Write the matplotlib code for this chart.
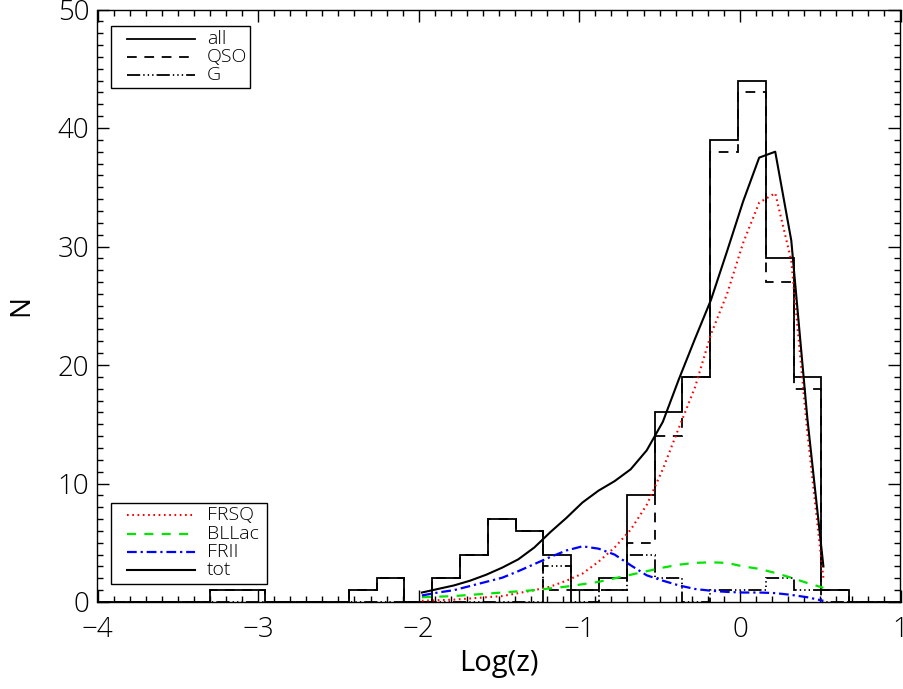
import numpy as np
import matplotlib.pyplot as plt
from matplotlib.patches import Rectangle
from matplotlib.ticker import MultipleLocator

plt.rcParams['font.family'] = ['Open Sans', 'DejaVu Sans']
plt.rcParams['font.weight'] = 'light'
plt.rcParams['lines.scale_dashes'] = False

# histogram bins in Log(z)
edges = [-3.300, -3.127, -2.954, -2.781, -2.608, -2.435, -2.262, -2.089,
         -1.916, -1.743, -1.570, -1.397, -1.224, -1.050, -0.877, -0.704,
         -0.531, -0.358, -0.185, -0.012, 0.161, 0.334, 0.507, 0.680]
n_all = [1, 1, 0, 0, 0, 1, 2, 0, 2, 4, 7, 6, 4, 1, 2, 9, 16, 19, 39, 44, 29, 19, 1]
n_qso = [1, 1, 0, 0, 0, 1, 2, 0, 2, 4, 7, 6, 1, 1, 1, 5, 14, 19, 38, 43, 27, 18, 1]
n_gal = [0, 0, 0, 0, 0, 0, 0, 0, 0, 0, 0, 0, 3, 0, 1, 4, 2, 0, 1, 1, 2, 1, 0]

# model curves
logz = [-1.98, -1.88, -1.78, -1.68, -1.58, -1.48, -1.38, -1.28, -1.18, -1.08,
        -0.98, -0.88, -0.78, -0.68, -0.58, -0.48, -0.38, -0.28, -0.18, -0.08,
        0.02, 0.12, 0.22, 0.32, 0.42, 0.52]
frsq = [0.1, 0.15, 0.2, 0.3, 0.4, 0.5, 0.75, 1.0, 1.3, 1.8,
        2.4, 3.4, 4.6, 6.1, 8.2, 11.2, 14.7, 18.1, 22.6, 26.0,
        30.3, 33.7, 34.5, 28.8, 14.3, 2.0]
bllac = [0.4, 0.45, 0.5, 0.6, 0.7, 0.8, 0.9, 1.0, 1.15, 1.3,
         1.5, 1.7, 2.0, 2.3, 2.6, 2.9, 3.15, 3.3, 3.35, 3.3,
         3.0, 2.8, 2.45, 2.05, 1.6, 1.2]
frii = [0.55, 0.8, 1.0, 1.35, 1.7, 2.05, 2.6, 3.2, 3.8, 4.35,
        4.7, 4.5, 4.0, 3.1, 2.25, 1.8, 1.4, 1.1, 0.95, 0.85,
        0.8, 0.8, 0.75, 0.6, 0.4, 0.1]
tot = [0.8, 1.1, 1.4, 1.8, 2.3, 2.9, 3.6, 4.6, 5.9, 7.1,
       8.4, 9.4, 10.2, 11.2, 12.8, 15.2, 18.8, 22.2, 25.5, 29.6,
       33.8, 37.5, 38.0, 30.5, 15.5, 3.0]

XMIN, XMAX = -4, 1

fig = plt.figure(figsize=(9.04, 6.89), dpi=100)
ax = fig.add_axes([97.5 / 904, 87 / 689, 803 / 904, 592.5 / 689])

lw = 1.3
sty_all = dict(color='black', lw=lw, ls='-')
sty_qso = dict(color='black', lw=lw, ls=(0, (7.0, 5.5)))
sty_gal = dict(color='black', lw=lw, ls=(0, (9.5, 2.2, 1.0, 2.2, 1.0, 2.2, 1.0, 2.2)))
sty_frsq = dict(color='#ff0000', lw=1.5, ls=(0, (1.2, 2.6)))
sty_bll = dict(color='#00e600', lw=1.6, ls=(0, (6.5, 6.0)))
sty_frii = dict(color='#0000ff', lw=1.6, ls=(0, (7.0, 2.8, 1.6, 2.8)))
sty_tot = dict(color='black', lw=1.5, ls='-')


def padded(counts):
    # extend the histogram with empty bins out to the axis limits
    return [0] + list(counts) + [0], [XMIN] + list(edges) + [XMAX]


for counts, sty in ((n_gal, sty_gal), (n_qso, sty_qso), (n_all, sty_all)):
    c, e = padded(counts)
    ax.stairs(c, e, baseline=None, **sty)

ax.plot(logz, frsq, **sty_frsq)
ax.plot(logz, bllac, **sty_bll)
ax.plot(logz, frii, **sty_frii)
ax.plot(logz, tot, **sty_tot)

ax.set_xlim(XMIN, XMAX)
ax.set_ylim(0, 50)
ax.xaxis.set_major_locator(MultipleLocator(1))
ax.xaxis.set_minor_locator(MultipleLocator(0.1))
ax.yaxis.set_major_locator(MultipleLocator(10))
ax.yaxis.set_minor_locator(MultipleLocator(1))
ax.tick_params(which='both', direction='in', top=True, right=True, width=1.0)
ax.tick_params(which='major', length=8.5)
ax.tick_params(which='minor', length=4.5)
ax.tick_params(axis='x', which='major', pad=10, labelsize=20)
ax.tick_params(axis='y', which='major', pad=6, labelsize=20)
for s in ax.spines.values():
    s.set_linewidth(1.0)

ax.set_xlabel('Log(z)', fontsize=21, labelpad=4)
ax.set_ylabel('N', fontsize=20, labelpad=16)


def legend_box(x0, x1, y0, y1, rows):
    ax.add_patch(Rectangle((x0, y0), x1 - x0, y1 - y0, transform=ax.transAxes,
                           fill=False, edgecolor='black', lw=1.0, zorder=5))
    for y, label, sty in rows:
        ax.plot([0.0367, 0.1214], [y, y], transform=ax.transAxes, zorder=6, **sty)
        ax.text(0.1364, y, label, transform=ax.transAxes, fontsize=14,
                va='center', ha='left', zorder=6)


legend_box(0.0168, 0.190, 0.8675, 0.972,
           [(0.9502, 'all', sty_all), (0.9198, 'QSO', sty_qso), (0.8894, 'G', sty_gal)])
legend_box(0.0168, 0.2111, 0.0304, 0.1671,
           [(0.1468, 'FRSQ', sty_frsq), (0.1148, 'BLLac', sty_bll),
            (0.0844, 'FRII', sty_frii), (0.0540, 'tot', sty_tot)])

fig.savefig('out.png', dpi=100)
